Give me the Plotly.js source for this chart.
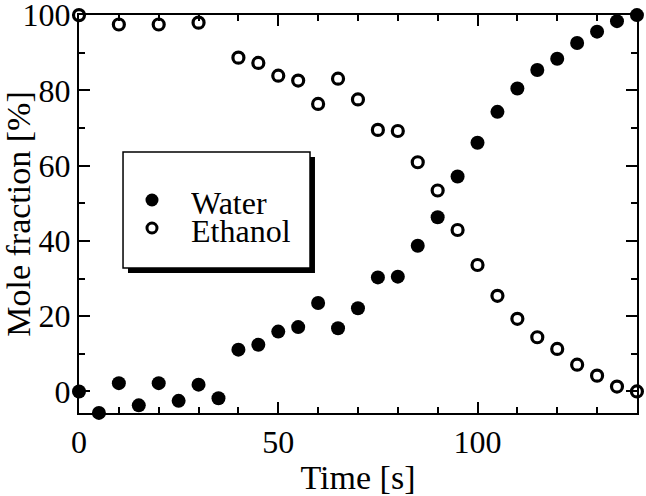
<!DOCTYPE html>
<html>
<head>
<meta charset="utf-8">
<script src="https://cdn.plot.ly/plotly-3.0.1.min.js"></script>
<style>html,body{margin:0;padding:0;background:#fff;}#chart{width:646px;height:496px;}</style>
</head>
<body>
<div id="chart"></div>
<script>
// Data
const waterTime = [0,5,10,15,20,25,30,35,40,45,50,55,60,65,70,75,80,85,90,95,100,105,110,115,120,125,130,135,140];
const waterFraction = [0,-5.7,2.2,-3.7,2.2,-2.5,1.8,-1.8,11.1,12.4,15.9,17.1,23.5,16.8,22.1,30.3,30.5,38.7,46.3,57.1,66.1,74.3,80.5,85.4,88.4,92.6,95.6,98.4,100];
const ethanolTime = [0,10,20,30,40,45,50,55,60,65,70,75,80,85,90,95,100,105,110,115,120,125,130,135,140];
const ethanolFraction = [100,97.5,97.5,98.0,88.7,87.3,83.9,82.6,76.4,83.1,77.6,69.5,69.2,60.9,53.4,42.9,33.6,25.4,19.3,14.4,11.3,7.1,4.2,1.3,0];
const seriesNames = ["Water","Ethanol"];
const xTickLabels = ["0","50","100"];
const yTickLabels = ["0","20","40","60","80","100"];

const FONT = "'Liberation Serif', 'Times New Roman', serif";

const traces = [
  {x: waterTime, y: waterFraction, name: seriesNames[0], type: "scatter", mode: "markers",
   cliponaxis: false, marker: {symbol: "circle", size: 14, color: "#000"}},
  {x: ethanolTime, y: ethanolFraction, name: seriesNames[1], type: "scatter", mode: "markers",
   cliponaxis: false, marker: {symbol: "circle-open", size: 11, color: "#000", line: {width: 3.2, color: "#000"}}}
];

const axisCommon = {
  showgrid: false, zeroline: false, showline: true, linecolor: "#000", linewidth: 2,
  ticks: "inside", tickcolor: "#000", tickwidth: 2, ticklen: 11, mirror: "ticks",
  ticklabeloverflow: "allow",
  tickfont: {family: FONT, size: 32, color: "#000"}
};

const layout = {
  width: 646, height: 496,
  margin: {l: 79, r: 9, t: 15, b: 83},
  paper_bgcolor: "#fff", plot_bgcolor: "#fff",
  showlegend: false,
  font: {family: FONT, color: "#000"},
  xaxis: Object.assign({}, axisCommon, {
    range: [0, 140.02], tickmode: "array",
    tickvals: xTickLabels.map(Number), ticktext: xTickLabels,
    minor: {dtick: 10, ticks: "inside", ticklen: 6, tickwidth: 2, tickcolor: "#000"},
    title: {text: "Time [s]", font: {family: FONT, size: 34, color: "#000"}, standoff: 8}
  }),
  yaxis: Object.assign({}, axisCommon, {
    range: [-5.73, 100.03], tickmode: "array",
    tickvals: yTickLabels.map(Number), ticktext: yTickLabels,
    minor: {dtick: 10, tick0: 0, ticks: "inside", ticklen: 6, tickwidth: 2, tickcolor: "#000"},
    title: {text: "Mole fraction [%]", font: {family: FONT, size: 34, color: "#000"}, standoff: 4}
  }),
  shapes: [
    // legend shadow
    {type: "rect", xref: "paper", yref: "paper", x0: 0.0878, x1: 0.4229, y0: 0.3518, y1: 0.6432,
     fillcolor: "#000", line: {width: 0}, layer: "above"},
    // legend box
    {type: "rect", xref: "paper", yref: "paper", x0: 0.0789, x1: 0.414, y0: 0.3643, y1: 0.6558,
     fillcolor: "#fff", line: {width: 1.5, color: "#000"}, layer: "above"},
    // legend symbols
    {type: "circle", xref: "paper", yref: "paper", xsizemode: "pixel", ysizemode: "pixel",
     xanchor: 0.1308, yanchor: 0.5352, x0: -6.5, x1: 6.5, y0: -6.5, y1: 6.5,
     fillcolor: "#000", line: {width: 0}, layer: "above"},
    {type: "circle", xref: "paper", yref: "paper", xsizemode: "pixel", ysizemode: "pixel",
     xanchor: 0.1308, yanchor: 0.4648, x0: -5, x1: 5, y0: -5, y1: 5,
     fillcolor: "#fff", line: {width: 3, color: "#000"}, layer: "above"}
  ],
  annotations: [
    {xref: "paper", yref: "paper", x: 0.1971, y: 0.5276, xanchor: "left", yanchor: "middle",
     height: 28, valign: "middle",
     text: seriesNames[0], showarrow: false, font: {family: FONT, size: 32, color: "#000"}},
    {xref: "paper", yref: "paper", x: 0.1971, y: 0.4573, xanchor: "left", yanchor: "middle",
     height: 28, valign: "middle",
     text: seriesNames[1], showarrow: false, font: {family: FONT, size: 32, color: "#000"}}
  ]
};

Plotly.newPlot("chart", traces, layout, {displayModeBar: false, staticPlot: true});
</script>
</body>
</html>
